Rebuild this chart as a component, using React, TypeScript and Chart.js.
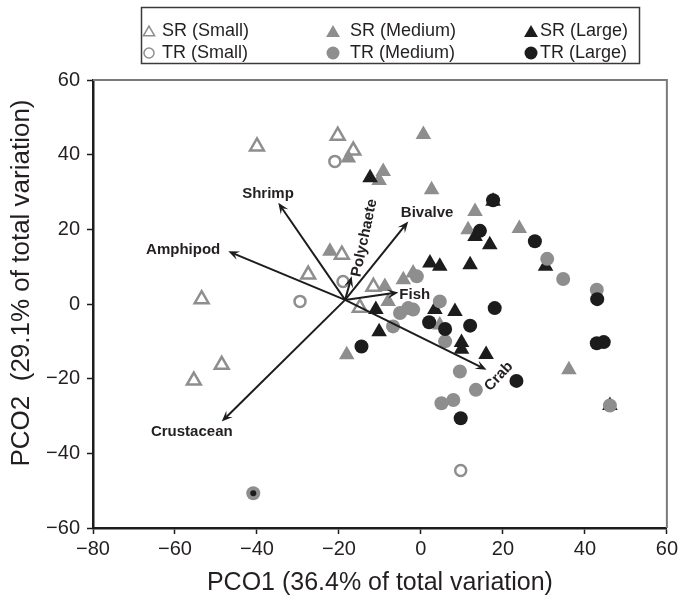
import React, { useEffect, useRef } from 'react';
import { Chart, registerables } from 'chart.js';

Chart.register(...registerables);

type Pt = [number, number];

// ---------- data ----------
const srSmall: Pt[] = [
  [-40.0, 42.2], [-20.3, 45.1], [-16.5, 41.1], [-19.3, 13.2], [-27.5, 7.9],
  [-11.6, 4.6], [-14.9, -1.0], [-53.5, 1.3], [-48.6, -16.3], [-55.4, -20.5],
];
const trSmall: Pt[] = [[-21.0, 38.2], [-19.0, 6.0], [-29.5, 0.7], [9.7, -44.6]];
const srMedium: Pt[] = [
  [-17.7, 39.1], [-9.2, 35.5], [-10.2, 33.1], [0.6, 45.4], [2.6, 30.6], [13.2, 24.8],
  [11.5, 19.9], [24.0, 20.2], [36.1, -17.6], [-22.2, 14.1], [-8.8, 4.7], [-8.0, 0.7],
  [-4.3, 6.5], [-1.9, 8.3], [4.6, -5.6], [-18.1, -13.6],
];
const trMedium: Pt[] = [
  [-40.9, -50.7], [-1.0, 7.4], [4.6, 0.7], [-5.1, -2.4], [-3.1, -1.1], [-1.9, -1.5],
  [-6.8, -6.0], [5.9, -10.0], [30.8, 12.1], [34.7, 6.7], [42.9, 3.8], [46.1, -27.2],
  [9.5, -18.1], [13.4, -23.0], [7.9, -25.7], [5.0, -26.6],
];
const srLarge: Pt[] = [
  [-12.4, 33.8], [17.6, 27.5], [13.2, 18.1], [16.8, 15.9], [2.2, 11.0], [4.6, 10.1],
  [12.0, 10.5], [30.4, 10.1], [46.1, -27.2], [-11.0, -1.5], [-10.2, -7.4], [3.4, -1.5],
  [8.3, -2.0], [9.9, -10.3], [9.9, -12.1], [15.9, -13.5],
];
const trLarge: Pt[] = [
  [17.6, 27.8], [14.4, 19.6], [27.8, 16.8], [43.0, 1.3], [42.9, -10.5], [44.6, -10.2],
  [18.0, -1.1], [2.0, -4.9], [5.9, -6.7], [12.0, -5.8], [23.3, -20.6], [9.7, -30.6],
  [-14.5, -11.4],
];
const trLargeCore: Pt[] = [[-40.9, -50.7]];

const legendLabels = ['SR (Small)', 'SR (Medium)', 'SR (Large)', 'TR (Small)', 'TR (Medium)', 'TR (Large)'];

// biplot vectors
const vectorOrigin: Pt = [-18.5, 1.1];
const vectorNames = ['Shrimp', 'Amphipod', 'Crustacean', 'Bivalve', 'Polychaete', 'Fish', 'Crab'];
const vectorEndX = [-34.8, -47.0, -48.6, -3.1, -16.9, -5.5, 16.0];
const vectorEndY = [27.1, 14.1, -31.5, 22.1, 7.4, 3.1, -17.6];
const labelX = [-37.3, -58.0, -55.9, 1.5, -13.8, -1.5, 19.0];
const labelY = [29.6, 14.5, -34.2, 24.4, 17.7, 2.5, -19.4];
const labelAngle = [0, 0, 0, 0, -78, 0, -47];

const xTicks = [-80, -60, -40, -20, 0, 20, 40, 60];
const yTicks = [-60, -40, -20, 0, 20, 40, 60];
const xTitle = 'PCO1 (36.4% of total variation)';
const yTitle = 'PCO2  (29.1% of total variation)';

// ---------- style ----------
const FONT = "'Liberation Sans', Arial, Helvetica, sans-serif";
const GRAY = '#8e8e8e';
const BLACK = '#1c1c1c';
const TEXT = '#231f20';

const toXY = (arr: Pt[]) => arr.map(([x, y]) => ({ x, y }));
const fmt = (v: number | string) => String(v).replace('-', '\u2212');

function tri(ctx: CanvasRenderingContext2D, x: number, y: number, r: number) {
  ctx.beginPath();
  for (let k = 0; k < 3; k++) {
    const a = (k * 2 * Math.PI) / 3;
    const px = x + Math.sin(a) * r;
    const py = y - Math.cos(a) * r;
    if (k === 0) ctx.moveTo(px, py); else ctx.lineTo(px, py);
  }
  ctx.closePath();
}

const framePlugin = {
  id: 'frame',
  beforeDatasetsDraw(chart: any) {
    const { ctx, chartArea: a } = chart;
    ctx.save();
    ctx.strokeStyle = '#7a7a7a';
    ctx.lineWidth = 2;
    ctx.beginPath();
    ctx.moveTo(a.left, a.top);
    ctx.lineTo(a.right, a.top);
    ctx.lineTo(a.right, a.bottom);
    ctx.stroke();
    ctx.restore();
  },
  afterDraw(chart: any) {
    const { ctx } = chart;
    ctx.save();
    ctx.font = `26px ${FONT}`;
    ctx.fillStyle = TEXT;
    ctx.textAlign = 'center';
    ctx.textBaseline = 'middle';
    ctx.translate(22, 283);
    ctx.rotate(-Math.PI / 2);
    ctx.fillText(yTitle, 0, 0);
    ctx.restore();
  },
};

const vectorPlugin = {
  id: 'vectors',
  afterDatasetsDraw(chart: any) {
    const { ctx } = chart;
    const xs = chart.scales.x;
    const ys = chart.scales.y;
    const ox = xs.getPixelForValue(vectorOrigin[0]);
    const oy = ys.getPixelForValue(vectorOrigin[1]);
    ctx.save();
    ctx.strokeStyle = BLACK;
    ctx.fillStyle = BLACK;
    ctx.lineWidth = 2;
    const hl = 11;
    const hw = 4.5;
    for (let i = 0; i < vectorNames.length; i++) {
      const ex = xs.getPixelForValue(vectorEndX[i]);
      const ey = ys.getPixelForValue(vectorEndY[i]);
      const a = Math.atan2(ey - oy, ex - ox);
      const c = Math.cos(a);
      const s = Math.sin(a);
      ctx.beginPath();
      ctx.moveTo(ox, oy);
      ctx.lineTo(ex - c * hl * 0.6, ey - s * hl * 0.6);
      ctx.stroke();
      ctx.beginPath();
      ctx.moveTo(ex, ey);
      ctx.lineTo(ex - c * hl - s * hw, ey - s * hl + c * hw);
      ctx.lineTo(ex - c * hl * 0.6, ey - s * hl * 0.6);
      ctx.lineTo(ex - c * hl + s * hw, ey - s * hl - c * hw);
      ctx.closePath();
      ctx.fill();
    }
    ctx.font = `bold 15px ${FONT}`;
    ctx.fillStyle = TEXT;
    ctx.textAlign = 'center';
    ctx.textBaseline = 'middle';
    for (let i = 0; i < vectorNames.length; i++) {
      const lx = xs.getPixelForValue(labelX[i]);
      const ly = ys.getPixelForValue(labelY[i]);
      ctx.save();
      ctx.translate(lx, ly);
      ctx.rotate((labelAngle[i] * Math.PI) / 180);
      ctx.fillText(vectorNames[i], 0, 0);
      ctx.restore();
    }
    ctx.restore();
  },
};

const legendPlugin = {
  id: 'customLegend',
  afterDraw(chart: any) {
    const { ctx } = chart;
    ctx.save();
    ctx.strokeStyle = '#3a3a3a';
    ctx.lineWidth = 1.5;
    ctx.strokeRect(141.5, 7.5, 498, 56);
    const markerX = [149, 333, 531];
    const textX = [162, 350, 540];
    const rowY = [31, 53];
    ctx.font = `18px ${FONT}`;
    ctx.textBaseline = 'middle';
    ctx.textAlign = 'left';
    for (let i = 0; i < 6; i++) {
      const col = i % 3;
      const row = Math.floor(i / 3);
      const mx = markerX[col];
      const my = rowY[row];
      if (row === 0) {
        if (col === 0) {
          tri(ctx, mx, my + 1.5, 6.5);
          ctx.strokeStyle = GRAY;
          ctx.lineWidth = 1.5;
          ctx.stroke();
        } else {
          tri(ctx, mx, my + 2, 8);
          ctx.fillStyle = col === 1 ? GRAY : BLACK;
          ctx.fill();
        }
      } else {
        ctx.beginPath();
        if (col === 0) {
          ctx.arc(mx, my, 5, 0, Math.PI * 2);
          ctx.strokeStyle = GRAY;
          ctx.lineWidth = 1.5;
          ctx.stroke();
        } else {
          ctx.arc(mx, my, 6.5, 0, Math.PI * 2);
          ctx.fillStyle = col === 1 ? GRAY : BLACK;
          ctx.fill();
        }
      }
      ctx.fillStyle = TEXT;
      ctx.fillText(legendLabels[i], textX[col], my);
    }
    ctx.restore();
  },
};

export default function App() {
  const ref = useRef<HTMLCanvasElement>(null);
  useEffect(() => {
    const axisCommon = (min: number, max: number, ticks: number[], pad: number) => ({
      type: 'linear' as const,
      min,
      max,
      afterBuildTicks: (s: any) => { s.ticks = ticks.map((v) => ({ value: v })); },
      ticks: {
        color: TEXT,
        font: { size: 20, family: FONT },
        padding: pad,
        maxRotation: 0,
        callback: (v: any) => fmt(v),
      },
      grid: {
        display: true,
        drawOnChartArea: false,
        drawTicks: true,
        tickLength: 6,
        tickColor: BLACK,
        tickWidth: 1.5,
      },
      border: { display: true, color: BLACK, width: 2.5 },
    });
    const chart = new Chart(ref.current as HTMLCanvasElement, {
      type: 'scatter',
      data: {
        datasets: [
          {
            label: legendLabels[5] + ' core', data: toXY(trLargeCore), pointStyle: 'circle',
            pointRadius: 3, backgroundColor: BLACK, borderColor: BLACK, borderWidth: 0, order: 1,
          },
          {
            label: legendLabels[5], data: toXY(trLarge), pointStyle: 'circle',
            pointRadius: 7, backgroundColor: BLACK, borderColor: BLACK, borderWidth: 0, order: 2,
          },
          {
            label: legendLabels[3], data: toXY(trSmall), pointStyle: 'circle',
            pointRadius: 5.5, backgroundColor: '#ffffff', borderColor: GRAY, borderWidth: 2.5, order: 3,
          },
          {
            label: legendLabels[4], data: toXY(trMedium), pointStyle: 'circle',
            pointRadius: 7, backgroundColor: GRAY, borderColor: GRAY, borderWidth: 0, order: 4,
          },
          {
            label: legendLabels[2], data: toXY(srLarge), pointStyle: 'triangle',
            pointRadius: 9, backgroundColor: BLACK, borderColor: BLACK, borderWidth: 0, order: 5,
          },
          {
            label: legendLabels[1], data: toXY(srMedium), pointStyle: 'triangle',
            pointRadius: 9, backgroundColor: GRAY, borderColor: GRAY, borderWidth: 0, order: 6,
          },
          {
            label: legendLabels[0], data: toXY(srSmall), pointStyle: 'triangle',
            pointRadius: 8, backgroundColor: '#ffffff', borderColor: GRAY, borderWidth: 2.5, order: 7,
          },
        ],
      },
      options: {
        responsive: false,
        devicePixelRatio: 1,
        animation: false,
        layout: { padding: { top: 80, right: 14, left: 0, bottom: 0 } },
        plugins: { legend: { display: false }, tooltip: { enabled: false } },
        scales: {
          x: {
            ...axisCommon(-80, 60, xTicks, 3),
            title: {
              display: true, text: xTitle, color: TEXT,
              font: { size: 25, family: FONT }, padding: { top: 0, bottom: 4 },
            },
            afterFit: (s: any) => { s.height = 74; },
          },
          y: {
            ...axisCommon(-60, 60, yTicks, 7),
            title: { display: false },
            afterFit: (s: any) => { s.width = 93; },
          },
        },
      } as any,
      plugins: [framePlugin, vectorPlugin, legendPlugin],
    });
    return () => chart.destroy();
  }, []);
  return (
    <div style={{ position: 'absolute', left: 0, top: 0, width: 681, height: 602, background: '#ffffff' }}>
      <canvas ref={ref} width={681} height={602} style={{ display: 'block', width: 681, height: 602 }} />
    </div>
  );
}
